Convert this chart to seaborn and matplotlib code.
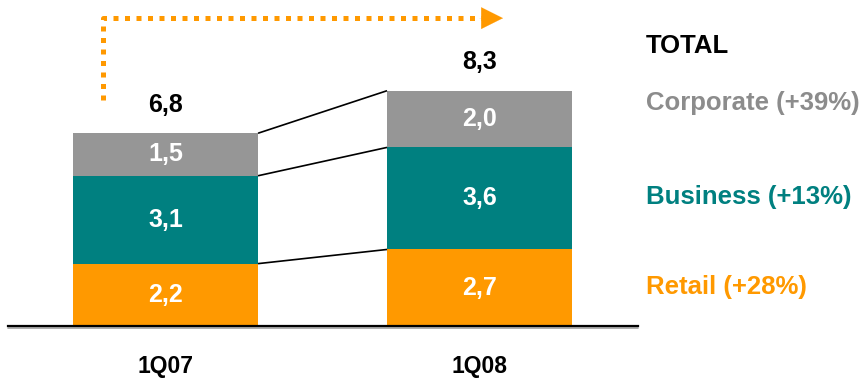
import matplotlib
matplotlib.use("Agg")
import matplotlib.pyplot as plt
import seaborn as sns
import pandas as pd
import numpy as np

# Data
quarters = ["1Q07", "1Q08"]
retail = [2.2, 2.7]
business = [3.1, 3.6]
corporate = [1.5, 2.0]
totals = [6.8, 8.3]
segment_names = ["Retail (+28%)", "Business (+13%)", "Corporate (+39%)"]
total_label = "TOTAL"

ORANGE = "#FF9900"
TEAL = "#008080"
GRAY = "#969696"
GRAY_TXT = "#8C8C8C"

sns.set_theme(style="white")
plt.rcParams["font.family"] = ["Liberation Sans", "DejaVu Sans"]

FS = 18
FS_LEG = 18.5

def fmt(v):
    return f"{v:.1f}".replace(".", ",")

df = pd.DataFrame({"quarter": quarters, "retail": retail,
                   "business": business, "corporate": corporate})
df["lvl1"] = df["retail"]
df["lvl2"] = df["retail"] + df["business"]
df["lvl3"] = df["lvl2"] + df["corporate"]

fig = plt.figure(figsize=(8.67, 3.78), dpi=100)
ax = fig.add_axes([8 / 867, 52 / 378, 630 / 867, 326 / 378])

W = 0.589
for col, color in [("lvl3", GRAY), ("lvl2", TEAL), ("lvl1", ORANGE)]:
    sns.barplot(data=df, x="quarter", y=col, color=color, width=W,
                saturation=1, ax=ax, edgecolor="none", linewidth=0)

ax.set_xlim(-0.502, 1.505)
ax.set_ylim(0, 11.5)

# connector lines between stacked levels
for col in ["lvl1", "lvl2", "lvl3"]:
    v = df[col].values
    ax.plot([0 + W / 2, 1 - W / 2], [v[0], v[1]], color="black", lw=1.2,
            zorder=3, solid_capstyle="butt")

# segment labels
for i in range(len(quarters)):
    bottoms = [0, df["lvl1"][i], df["lvl2"][i]]
    vals = [retail[i], business[i], corporate[i]]
    for b, v in zip(bottoms, vals):
        ax.text(i, b + v / 2, fmt(v), ha="center", va="center", color="white",
                fontsize=FS, fontweight="bold")
    ax.text(i, totals[i] + 1.0, fmt(totals[i]), ha="center", va="center",
            color="black", fontsize=FS, fontweight="bold")

# growth arrow: dotted path plus solid head
ax.plot([-0.199, -0.199, 1.01], [7.97, 10.86, 10.86], color=ORANGE, lw=3.6,
        linestyle=(0, (1, 1.3)), solid_capstyle="butt", dash_capstyle="butt",
        clip_on=False)
ax.annotate("", xy=(1.075, 10.86), xytext=(1.0, 10.86),
            arrowprops=dict(arrowstyle="-|>,head_length=1.3,head_width=0.65",
                            color=ORANGE, lw=0.1, shrinkA=0, shrinkB=0),
            annotation_clip=False)

# axis
ax.set_xlabel("")
ax.set_ylabel("")
ax.set_yticks([])
ax.set_xticks([0, 1])
ax.set_xticklabels(quarters, fontsize=16.5, fontweight="bold", color="black")
ax.tick_params(axis="x", length=0, pad=21)
for s in ["top", "right", "left"]:
    ax.spines[s].set_visible(False)
ax.spines["bottom"].set_color("black")
ax.spines["bottom"].set_linewidth(1.6)
ax.axhline(-0.06, color="#A0A0A0", lw=1.2, zorder=0, clip_on=False)

# side legend
fig.text(646 / 867, 1 - 46 / 378, total_label, color="black", fontsize=FS_LEG,
         fontweight="bold", va="center", ha="left")
fig.text(646 / 867, 1 - 103 / 378, segment_names[2], color=GRAY_TXT,
         fontsize=FS_LEG, fontweight="bold", va="center", ha="left")
fig.text(646 / 867, 1 - 197 / 378, segment_names[1], color=TEAL,
         fontsize=FS_LEG, fontweight="bold", va="center", ha="left")
fig.text(646 / 867, 1 - 287 / 378, segment_names[0], color=ORANGE,
         fontsize=FS_LEG, fontweight="bold", va="center", ha="left")

fig.savefig("out.png", dpi=100, facecolor="white")
